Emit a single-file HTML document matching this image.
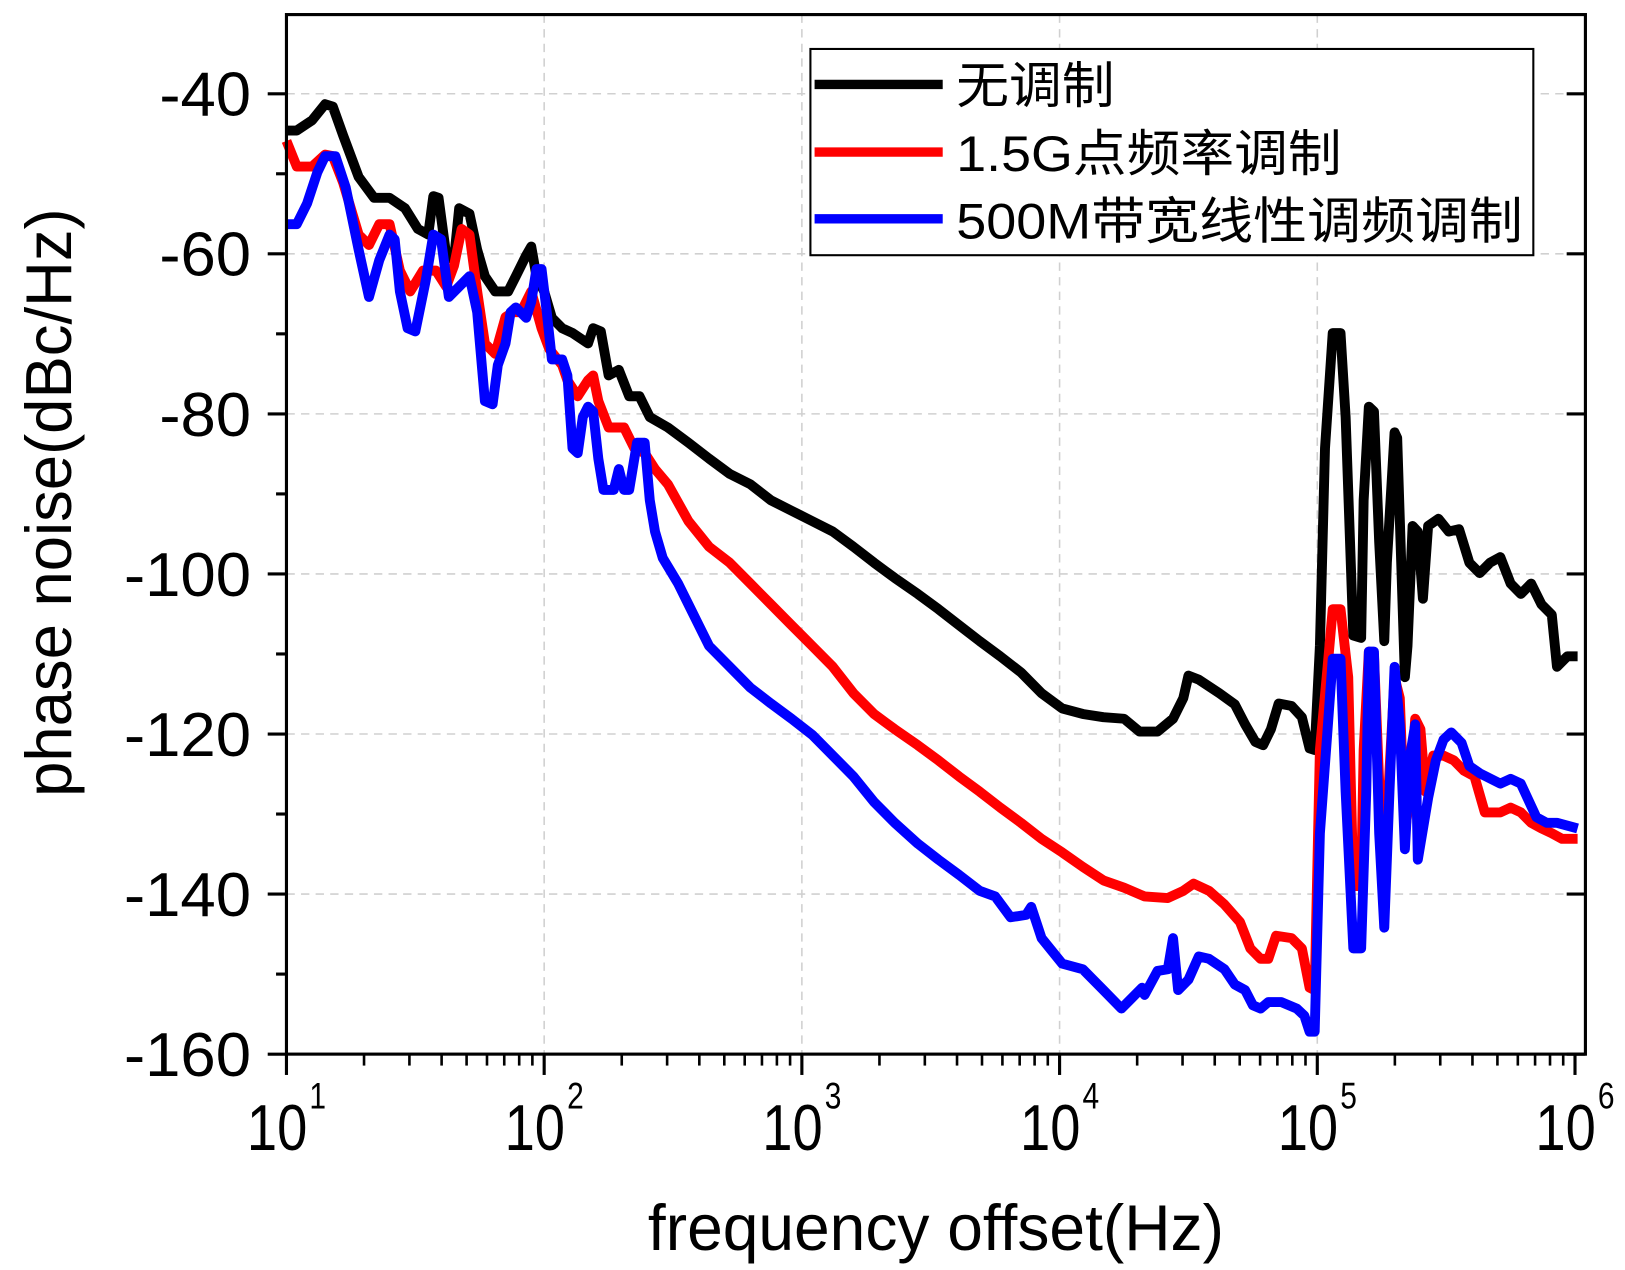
<!DOCTYPE html>
<html><head><meta charset="utf-8"><style>
html,body{margin:0;padding:0;background:#fff;}
svg{display:block;font-family:"Liberation Sans","Noto Sans CJK SC",sans-serif;}
</style></head><body>
<svg id="chart" width="1625" height="1270" viewBox="0 0 1560 1219.2" xmlns="http://www.w3.org/2000/svg">
<g id="grid"></g>
<g id="series"></g>
<g id="axes"></g>
<g id="legend">
  <rect x="778" y="47" width="694" height="198" fill="#fff" stroke="#000" stroke-width="2"/>
  <line x1="782" y1="81" x2="905" y2="81" stroke="#000" stroke-width="9"/>
  <text x="918" y="99" font-size="48" textLength="152" lengthAdjust="spacingAndGlyphs">无调制</text>
  <line x1="782" y1="146" x2="905" y2="146" stroke="#ff0000" stroke-width="9"/>
  <text x="918" y="164" font-size="48" textLength="370" lengthAdjust="spacingAndGlyphs">1.5G点频率调制</text>
  <line x1="782" y1="210" x2="905" y2="210" stroke="#0000ff" stroke-width="9"/>
  <text x="918" y="229" font-size="48" textLength="544" lengthAdjust="spacingAndGlyphs">500M带宽线性调频调制</text>
</g>
</svg>
<script>
// axis ticks
const xDecades = [1, 2, 3, 4, 5, 6];
const yTicks = [-40, -60, -80, -100, -120, -140, -160];
const yMinor = [-50, -70, -90, -110, -130, -150];
// series: x = log10(frequency), y = dB
const blackX = [1.00,1.04,1.10,1.15,1.18,1.22,1.28,1.34,1.40,1.46,1.51,1.55,1.57,1.59,1.62,1.65,1.67,1.71,1.74,1.77,1.81,1.86,1.89,1.93,1.95,1.97,2.00,2.03,2.07,2.11,2.17,2.19,2.22,2.25,2.29,2.33,2.37,2.41,2.48,2.56,2.64,2.72,2.80,2.88,2.96,3.04,3.12,3.20,3.28,3.36,3.45,3.53,3.61,3.69,3.77,3.85,3.93,4.01,4.09,4.17,4.25,4.31,4.38,4.44,4.48,4.50,4.54,4.62,4.68,4.72,4.76,4.79,4.82,4.85,4.90,4.94,4.97,4.99,5.01,5.03,5.06,5.09,5.11,5.14,5.17,5.18,5.20,5.22,5.24,5.26,5.27,5.30,5.31,5.34,5.35,5.37,5.39,5.41,5.43,5.47,5.51,5.55,5.59,5.63,5.67,5.71,5.75,5.79,5.83,5.87,5.91,5.93,5.97,6.01];
const blackY = [-44.6,-44.6,-43.3,-41.3,-41.6,-45.2,-50.4,-53.0,-53.0,-54.3,-56.9,-57.6,-52.8,-53.0,-60.2,-60.8,-54.3,-55.0,-59.5,-62.8,-64.7,-64.7,-62.8,-60.2,-59.1,-62.8,-64.7,-68.0,-69.3,-69.9,-71.2,-69.3,-69.7,-75.2,-74.5,-77.8,-77.8,-80.4,-81.7,-83.6,-85.6,-87.5,-88.8,-90.8,-92.1,-93.4,-94.7,-96.6,-98.6,-100.5,-102.5,-104.4,-106.4,-108.4,-110.3,-112.3,-114.9,-116.8,-117.5,-117.9,-118.1,-119.7,-119.7,-118.1,-115.5,-112.7,-113.2,-114.9,-116.3,-118.8,-121.0,-121.4,-119.4,-116.2,-116.5,-117.9,-121.8,-122.0,-109.0,-84.3,-69.9,-69.9,-80.4,-107.7,-108.0,-90.8,-79.1,-79.7,-96.0,-108.4,-98.6,-82.3,-83.0,-112.9,-109.0,-94.0,-94.7,-103.1,-94.0,-93.1,-94.7,-94.4,-98.6,-99.9,-98.6,-97.9,-101.2,-102.5,-101.2,-103.8,-105.1,-111.6,-110.3,-110.3];
const redX = [1.00,1.04,1.10,1.15,1.18,1.22,1.28,1.32,1.36,1.40,1.44,1.48,1.53,1.58,1.62,1.65,1.68,1.71,1.74,1.77,1.81,1.85,1.88,1.91,1.95,1.99,2.02,2.07,2.09,2.13,2.17,2.19,2.21,2.25,2.31,2.35,2.39,2.43,2.48,2.56,2.64,2.72,2.80,2.88,2.96,3.04,3.12,3.20,3.28,3.36,3.45,3.53,3.61,3.69,3.77,3.85,3.93,4.01,4.09,4.17,4.25,4.33,4.42,4.48,4.52,4.58,4.64,4.70,4.74,4.78,4.81,4.84,4.90,4.94,4.97,4.99,5.01,5.04,5.06,5.09,5.12,5.14,5.17,5.18,5.20,5.22,5.24,5.26,5.28,5.30,5.32,5.34,5.36,5.38,5.40,5.42,5.45,5.49,5.53,5.57,5.61,5.65,5.71,5.75,5.79,5.83,5.87,5.91,5.95,6.01];
const redY = [-45.9,-49.1,-49.1,-47.6,-47.8,-51.1,-57.6,-58.9,-56.3,-56.3,-62.1,-64.7,-62.1,-62.1,-64.1,-61.5,-56.9,-57.6,-64.7,-71.2,-72.5,-67.9,-67.3,-67.3,-64.7,-69.3,-71.9,-73.9,-75.8,-77.8,-75.8,-75.2,-78.4,-81.7,-81.7,-84.3,-84.9,-86.9,-88.8,-93.4,-96.6,-98.6,-101.2,-103.8,-106.4,-109.0,-111.6,-114.9,-117.5,-119.4,-121.4,-123.3,-125.3,-127.2,-129.2,-131.1,-133.1,-134.8,-136.6,-138.3,-139.2,-140.3,-140.5,-139.6,-138.7,-139.6,-141.3,-143.5,-146.8,-148.1,-148.1,-145.2,-145.5,-146.8,-151.7,-152.0,-122.0,-111.6,-104.4,-104.4,-112.9,-139.0,-139.0,-122.0,-109.7,-110.1,-126.0,-139.0,-124.6,-112.9,-115.5,-132.4,-127.2,-118.1,-119.4,-127.2,-122.7,-122.7,-123.3,-124.6,-125.3,-129.8,-129.8,-129.2,-129.8,-131.1,-131.8,-132.4,-133.1,-133.1];
const blueX = [1.00,1.04,1.08,1.12,1.15,1.19,1.23,1.28,1.32,1.36,1.40,1.42,1.44,1.47,1.50,1.54,1.57,1.60,1.63,1.67,1.71,1.74,1.77,1.80,1.82,1.85,1.87,1.89,1.93,1.95,1.97,1.99,2.01,2.03,2.07,2.09,2.11,2.13,2.15,2.17,2.19,2.21,2.23,2.27,2.29,2.31,2.33,2.36,2.39,2.41,2.43,2.46,2.52,2.56,2.60,2.64,2.72,2.80,2.88,2.96,3.04,3.12,3.20,3.28,3.36,3.45,3.53,3.61,3.69,3.75,3.81,3.87,3.89,3.93,4.01,4.09,4.17,4.24,4.28,4.32,4.33,4.38,4.42,4.44,4.46,4.50,4.54,4.58,4.64,4.68,4.72,4.75,4.78,4.81,4.86,4.92,4.95,4.97,4.99,5.01,5.04,5.06,5.09,5.11,5.14,5.17,5.19,5.20,5.22,5.24,5.26,5.28,5.30,5.32,5.34,5.36,5.38,5.39,5.43,5.46,5.49,5.52,5.56,5.59,5.63,5.71,5.75,5.79,5.85,5.89,5.93,6.01];
const blueY = [-56.3,-56.3,-53.7,-49.8,-47.8,-47.8,-51.7,-59.5,-65.4,-60.8,-57.6,-58.2,-64.7,-69.3,-69.7,-63.4,-57.6,-58.2,-65.4,-64.1,-62.8,-67.3,-78.4,-78.8,-73.9,-71.2,-67.3,-66.7,-68.0,-66.0,-61.9,-61.9,-67.3,-73.2,-73.2,-75.2,-84.3,-84.9,-80.4,-79.1,-79.7,-85.6,-89.5,-89.5,-86.9,-89.5,-89.5,-83.6,-83.6,-90.8,-94.7,-98.0,-101.2,-103.8,-106.4,-109.0,-111.6,-114.2,-116.2,-118.1,-120.1,-122.7,-125.3,-128.5,-131.1,-133.7,-135.7,-137.6,-139.6,-140.3,-142.9,-142.6,-141.6,-145.5,-148.7,-149.4,-152.0,-154.3,-153.0,-151.7,-152.6,-149.6,-149.4,-145.5,-152.0,-150.7,-147.8,-148.1,-149.4,-151.3,-152.0,-153.9,-154.3,-153.5,-153.5,-154.3,-155.2,-157.2,-157.2,-132.4,-119.4,-110.6,-110.6,-127.2,-146.8,-146.8,-127.2,-109.7,-109.7,-132.4,-144.2,-127.2,-111.6,-118.8,-134.4,-122.7,-118.8,-135.7,-128.0,-123.3,-120.7,-119.8,-121.1,-124.0,-124.9,-126.2,-125.6,-126.2,-130.4,-131.1,-131.1,-131.8,-133.1];

const NS = 'http://www.w3.org/2000/svg';
const X0 = 275, DEC = 247.4, Y0 = 90, PDB = 7.683;
const sx = e => X0 + (e - 1) * DEC;
const sy = v => Y0 + (-40 - v) * PDB;
const L = 275, R = 1522, T = 14, B = sy(-160);
function mk(tag, attrs, parent) {
  const el = document.createElementNS(NS, tag);
  for (const k in attrs) el.setAttribute(k, attrs[k]);
  parent.appendChild(el);
  return el;
}
const grid = document.getElementById('grid');
const axes = document.getElementById('axes');
const series = document.getElementById('series');

xDecades.slice(1, -1).forEach(d => {
  const g = mk('line', {x1: sx(d), x2: sx(d), y1: T, y2: B, stroke: '#d0d0d0', 'stroke-width': 1.5, 'stroke-dasharray': '8 6'}, grid);
  
  
});
yTicks.slice(0, -1).forEach(v => {
  const g = mk('line', {x1: L, x2: R, y1: sy(v), y2: sy(v), stroke: '#d0d0d0', 'stroke-width': 1.5, 'stroke-dasharray': '8 6'}, grid);
  
  
});

const seriesDefs = [[blackX, blackY, '#000000', 'series-no-modulation'], [redX, redY, '#ff0000', 'series-1-5g-modulation'], [blueX, blueY, '#0000ff', 'series-500m-lfm']];
seriesDefs.forEach(([xs, ys, c, name]) => {
  const d = xs.map((e, i) => (i ? 'L' : 'M') + sx(e).toFixed(1) + ' ' + sy(ys[i]).toFixed(1)).join(' ');
  const p = mk('path', {d: d, fill: 'none', stroke: c, 'stroke-width': 9.5, 'stroke-linejoin': 'round'}, series);
  
  
});

const frame = mk('rect', {x: L, y: T, width: R - L, height: B - T, fill: 'none', stroke: '#000', 'stroke-width': 3}, axes);



yTicks.forEach(v => {
  const t = mk('line', {x1: L - 18, x2: L, y1: sy(v), y2: sy(v), stroke: '#000', 'stroke-width': 3}, axes);
  
  
  const t2 = mk('line', {x1: R - 18, x2: R, y1: sy(v), y2: sy(v), stroke: '#000', 'stroke-width': 3}, axes);
  
  
  const s = String(v);
  const w = s.length > 3 ? 122 : 88;
  const lb = mk('text', {x: 241 - w, y: sy(v) + 21, 'font-size': 60, textLength: w, lengthAdjust: 'spacingAndGlyphs'}, axes);
  lb.textContent = s;
  
  
});
yMinor.forEach(v => {
  const t = mk('line', {x1: L - 10, x2: L, y1: sy(v), y2: sy(v), stroke: '#000', 'stroke-width': 3}, axes);
  
  
});

xDecades.forEach((d, i) => {
  const t = mk('line', {x1: sx(d), x2: sx(d), y1: B, y2: B + 20, stroke: '#000', 'stroke-width': 3}, axes);
  
  
  const lb = mk('text', {x: sx(d) - 38, y: B + 92, 'font-size': 62, textLength: 58, lengthAdjust: 'spacingAndGlyphs'}, axes);
  lb.textContent = '10';
  
  
  const sp = mk('text', {x: sx(d) + 22, y: B + 52, 'font-size': 36, textLength: 16, lengthAdjust: 'spacingAndGlyphs'}, axes);
  sp.textContent = String(d);
  
  
  if (i < xDecades.length - 1) {
    for (let m = 2; m <= 9; m++) {
      const mt = mk('line', {x1: sx(d + Math.log10(m)), x2: sx(d + Math.log10(m)), y1: B, y2: B + 11, stroke: '#000', 'stroke-width': 2.5}, axes);
      
      
    }
  }
});

const xt = mk('text', {x: 622, y: 1200, 'font-size': 62, textLength: 553, lengthAdjust: 'spacingAndGlyphs'}, axes);
xt.textContent = 'frequency offset(Hz)';


const yt = mk('text', {x: 0, y: 0, 'font-size': 62, textLength: 565, lengthAdjust: 'spacingAndGlyphs', transform: 'translate(68 765) rotate(-90)'}, axes);
yt.textContent = 'phase noise(dBc/Hz)';


</script>
</body></html>
